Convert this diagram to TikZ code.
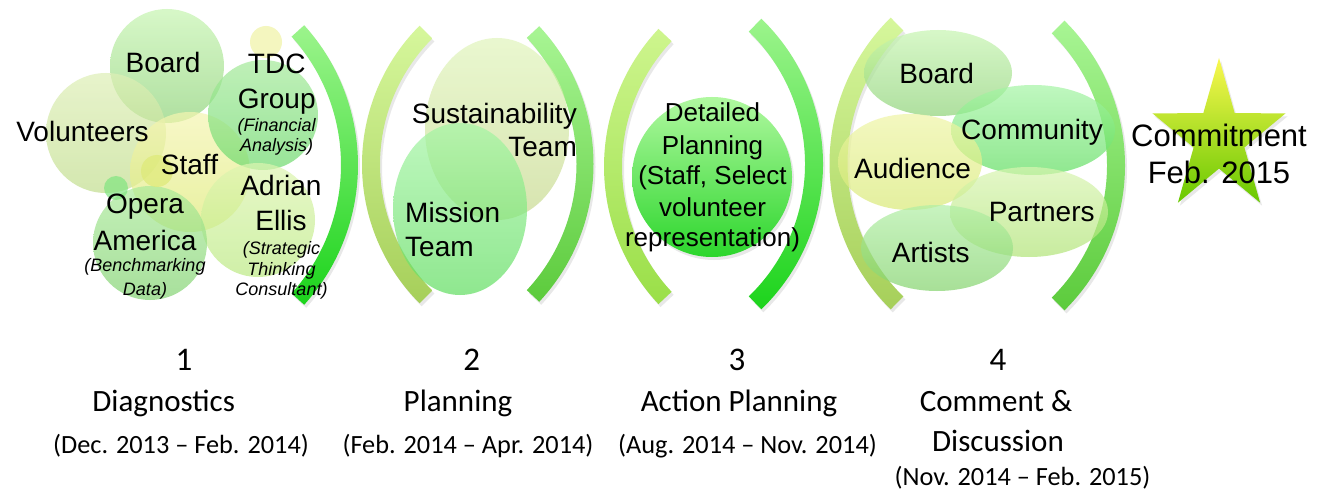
\documentclass[tikz,border=0pt]{standalone}
\usepackage{fontspec}
\setmainfont{Liberation Sans}
\newfontfamily\calibri{Carlito}
\usetikzlibrary{shadows}

\definecolor{brighttop}{HTML}{9CF48C}
\definecolor{brightbot}{HTML}{1CD41C}
\definecolor{paletop}{HTML}{D6F79C}
\definecolor{palebot}{HTML}{A6CF5A}
\definecolor{midtop}{HTML}{A8F594}
\definecolor{midbot}{HTML}{5CCB3C}
\definecolor{limetop}{HTML}{CEF58E}
\definecolor{limebot}{HTML}{9ADF48}
\definecolor{disctop}{HTML}{B0F8A0}
\definecolor{discbot}{HTML}{2CD62C}
\definecolor{startop}{HTML}{FAF850}
\definecolor{starmid}{HTML}{E2EC28}
\definecolor{starbot}{HTML}{68C800}

\definecolor{boardtop}{HTML}{C7F5B1}
\definecolor{boardbot}{HTML}{8ED378}
\definecolor{voltop}{HTML}{DEEFB6}
\definecolor{volbot}{HTML}{C2DE8E}
\definecolor{stafftop}{HTML}{F5F5B1}
\definecolor{staffbot}{HTML}{DEEA77}
\definecolor{tdctop}{HTML}{A5EA9A}
\definecolor{tdcbot}{HTML}{6CD96C}
\definecolor{adriantop}{HTML}{DEF5B1}
\definecolor{adrianbot}{HTML}{BCEA83}
\definecolor{operatop}{HTML}{ABEA9A}
\definecolor{operabot}{HTML}{83D372}
\definecolor{susttop}{HTML}{E1F5BC}
\definecolor{sustbot}{HTML}{C7D98E}
\definecolor{missiontop}{HTML}{A5F5A5}
\definecolor{missionbot}{HTML}{60DE60}
\definecolor{audtop}{HTML}{EFF5A5}
\definecolor{audbot}{HTML}{D9EA77}
\definecolor{parttop}{HTML}{D9F5B1}
\definecolor{partbot}{HTML}{B1E477}
\definecolor{arttop}{HTML}{B1EFA5}
\definecolor{artbot}{HTML}{83D36C}

\tikzset{
    bubble/.style={fill opacity=0.7},
    bracketshade/.style={drop shadow={shadow xshift=2pt, shadow yshift=-3pt, opacity=0.18}},
    maintext/.style={font=\fontsize{28}{30}\selectfont, anchor=base, inner sep=0pt},
    notetext/.style={font=\fontsize{18}{20}\selectfont\itshape, anchor=base, inner sep=0pt},
    detailtext/.style={font=\fontsize{26}{28}\selectfont, anchor=base, inner sep=0pt},
    goaltext/.style={font=\fontsize{31}{33}\selectfont, anchor=base, inner sep=0pt},
    numtext/.style={font=\calibri\fontsize{33}{36}\selectfont, anchor=base, inner sep=0pt},
    phasetext/.style={font=\calibri\fontsize{31}{34}\selectfont, anchor=base, inner sep=0pt},
    datetext/.style={font=\calibri\fontsize{26.3}{29}\selectfont, anchor=base, inner sep=0pt}
}

\begin{document}
\begin{tikzpicture}[x=1pt, y=-1pt]

    \useasboundingbox[fill=white] (0, 0) rectangle (1329, 489);

    \shade[bubble, top color=boardtop, bottom color=boardbot] (167, 66) circle (57);
    \shade[bubble, top color=voltop, bottom color=volbot] (106, 133) circle (60);
    \shade[bubble, top color=stafftop, bottom color=staffbot] (190, 172) circle (60);
    \shade[bubble, top color=tdctop, bottom color=tdcbot] (263, 115) circle (55);
    \shade[bubble, top color=adriantop, bottom color=adrianbot] (258, 220) circle (57);
    \shade[bubble, top color=operatop, bottom color=operabot] (150, 243) circle (57);
    \fill[bubble, fill=stafftop!80!staffbot] (266, 42) circle (16);
    \fill[bubble, fill=missionbot!80] (116, 188) circle (12);
    \fill[bubble, fill=staffbot] (157, 171) circle (16);

    \begin{scope}[shift={(149.5, 165)}]
        \path[bracketshade, top color=brighttop, bottom color=brightbot] (-42.1:208.5) arc[start angle=-42.1, end angle=42.1, radius=208.5] -- (42.1:191.5) arc[start angle=42.1, end angle=-42.1, radius=191.5] -- cycle;
    \end{scope}
    \begin{scope}[shift={(558, 164.5)}]
        \path[bracketshade, top color=paletop, bottom color=palebot] (225.1:196) arc[start angle=225.1, end angle=134.9, radius=196] -- (134.9:178) arc[start angle=134.9, end angle=225.1, radius=178] -- cycle;
    \end{scope}
    \begin{scope}[shift={(391.5, 164)}]
        \path[bracketshade, top color=midtop, bottom color=midbot] (-43:202) arc[start angle=-43, end angle=43, radius=202] -- (43:185) arc[start angle=43, end angle=-43, radius=185] -- cycle;
    \end{scope}
    \begin{scope}[shift={(805, 166.5)}]
        \path[bracketshade, top color=limetop, bottom color=limebot] (223.2:201) arc[start angle=223.2, end angle=136.8, radius=201] -- (136.8:183) arc[start angle=136.8, end angle=223.2, radius=183] -- cycle;
    \end{scope}
    \begin{scope}[shift={(621, 164)}]
        \path[bracketshade, top color=brighttop, bottom color=brightbot] (-46:202) arc[start angle=-46, end angle=46, radius=202] -- (46:184) arc[start angle=46, end angle=-46, radius=184] -- cycle;
    \end{scope}
    \begin{scope}[shift={(1034, 163.5)}]
        \path[bracketshade, top color=paletop, bottom color=palebot] (225.5:204.5) arc[start angle=225.5, end angle=134.5, radius=204.5] -- (134.5:186.5) arc[start angle=134.5, end angle=225.5, radius=186.5] -- cycle;
    \end{scope}
    \begin{scope}[shift={(921.5, 165.5)}]
        \path[bracketshade, top color=midtop, bottom color=midbot] (-45.4:203.5) arc[start angle=-45.4, end angle=45.4, radius=203.5] -- (45.4:185.5) arc[start angle=45.4, end angle=-45.4, radius=185.5] -- cycle;
    \end{scope}

    \shade[bubble, top color=susttop, bottom color=sustbot] (497, 129) ellipse [x radius=72, y radius=91];
    \shade[bubble, top color=missiontop, bottom color=missionbot] (460, 209) ellipse [x radius=67, y radius=86];

    \shade[bracketshade, top color=disctop, bottom color=discbot] (712, 177) circle (80);

    \shade[bubble, top color=boardtop, bottom color=boardbot] (938, 73) ellipse [x radius=74, y radius=43];
    \shade[bubble, top color=missiontop, bottom color=missionbot] (1033, 130) ellipse [x radius=82, y radius=45];
    \shade[bubble, top color=audtop, bottom color=audbot] (910, 162) ellipse [x radius=72, y radius=48];
    \shade[bubble, top color=parttop, bottom color=partbot] (1029, 212) ellipse [x radius=79, y radius=45];
    \shade[bubble, top color=arttop, bottom color=artbot] (937, 248) ellipse [x radius=76, y radius=43];

    \path[bracketshade, top color=startop, middle color=starmid, bottom color=starbot] (1219, 58) -- (1234.7, 113.2) -- (1285.6, 113.3) -- (1244.4, 147.5) -- (1260.1, 202.7) -- (1219, 168.6) -- (1177.9, 202.7) -- (1193.6, 147.5) -- (1152.4, 113.3) -- (1203.3, 113.2) -- cycle;

    \node[maintext] (boardone) at (163, 72.7) {Board};
    \node[maintext] (tdc) at (276.7, 73.3) {TDC};
    \node[maintext] (group) at (276.7, 108.3) {Group};
    \node[notetext] (financial) at (276.7, 131.7) {(Financial};
    \node[notetext] (analysis) at (276.7, 151.7) {Analysis)};
    \node[maintext] (volunteers) at (82.5, 141.7) {Volunteers};
    \node[maintext] (staff) at (189.5, 175) {Staff};
    \node[maintext] (adrian) at (281, 195) {Adrian};
    \node[maintext] (ellis) at (281, 230) {Ellis};
    \node[notetext] (strategic) at (281.5, 254) {(Strategic};
    \node[notetext] (thinking) at (281.5, 275) {Thinking};
    \node[notetext] (consultant) at (281.5, 295.5) {Consultant)};
    \node[maintext] (opera) at (145, 213.3) {Opera};
    \node[maintext] (america) at (145, 250) {America};
    \node[notetext] (benchmarking) at (145, 271.7) {(Benchmarking};
    \node[notetext] (data) at (145, 295) {Data)};

    \node[maintext, anchor=base east] (sustainability) at (577, 123.3) {Sustainability};
    \node[maintext, anchor=base east] (teamtop) at (577, 156.7) {Team};
    \node[maintext, anchor=base west] (mission) at (405, 222.7) {Mission};
    \node[maintext, anchor=base west] (teambottom) at (405, 256.7) {Team};

    \node[detailtext] (detailed) at (712.5, 121.7) {Detailed};
    \node[detailtext] (planningtext) at (712.5, 155) {Planning};
    \node[detailtext] (staffselect) at (712.5, 185) {(Staff, Select};
    \node[detailtext] (volunteer) at (712.5, 216.7) {volunteer};
    \node[detailtext] (representation) at (712.5, 246.7) {representation)};

    \node[maintext] (boardfour) at (936.7, 84) {Board};
    \node[maintext] (community) at (1032, 140) {Community};
    \node[maintext] (audience) at (912.5, 178.3) {Audience};
    \node[maintext] (partners) at (1041.7, 221.7) {Partners};
    \node[maintext] (artists) at (930.8, 262.7) {Artists};

    \node[goaltext] (commitment) at (1219, 146.7) {Commitment};
    \node[goaltext] (goaldate) at (1219, 183.3) {Feb. 2015};

    \node[numtext] (numone) at (184, 370) {1};
    \node[phasetext] (diagnostics) at (163.7, 411) {Diagnostics};
    \node[datetext] (dateone) at (181, 453.3) {(Dec. 2013 – Feb. 2014)};

    \node[numtext] (numtwo) at (471.7, 370) {2};
    \node[phasetext] (planning) at (458, 411) {Planning};
    \node[datetext] (datetwo) at (468, 453.3) {(Feb. 2014 – Apr. 2014)};

    \node[numtext] (numthree) at (737, 370) {3};
    \node[phasetext] (action) at (739, 411) {Action Planning};
    \node[datetext] (datethree) at (747.5, 453.3) {(Aug. 2014 – Nov. 2014)};

    \node[numtext] (numfour) at (998, 370) {4};
    \node[phasetext] (comment) at (996, 411) {Comment \&};
    \node[phasetext] (discussion) at (998, 451.7) {Discussion};
    \node[datetext] (datefour) at (1022.5, 485) {(Nov. 2014 – Feb. 2015)};

\end{tikzpicture}
\end{document}
